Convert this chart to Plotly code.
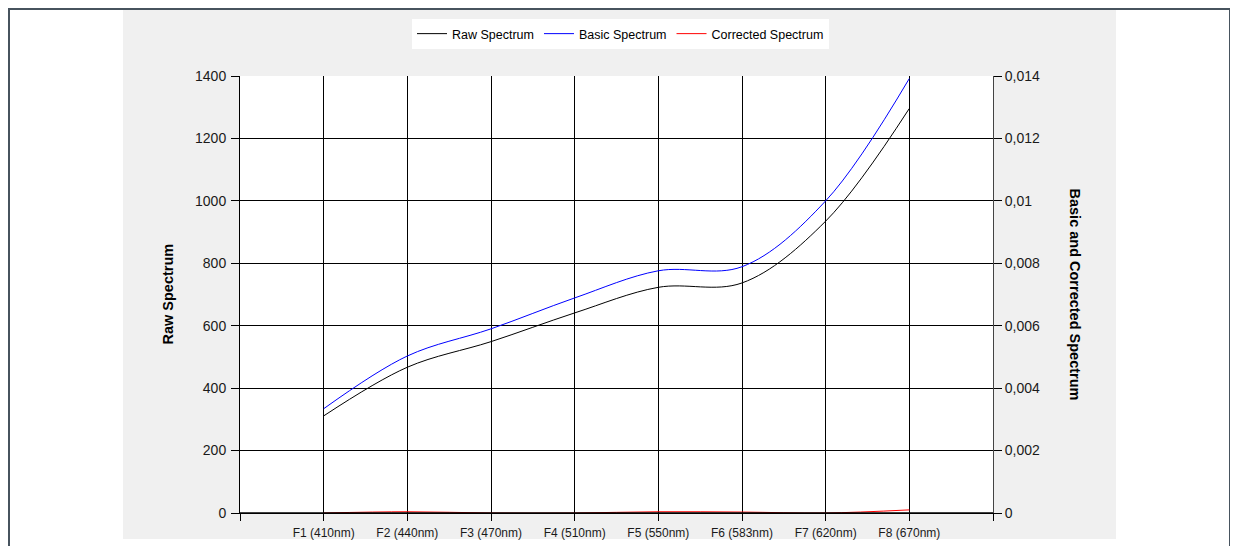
import plotly.graph_objects as go

categories = ["F1 (410nm)", "F2 (440nm)", "F3 (470nm)", "F4 (510nm)",
              "F5 (550nm)", "F6 (583nm)", "F7 (620nm)", "F8 (670nm)"]
raw_spectrum = [311, 467, 549, 641, 723, 737, 935, 1296]
basic_spectrum = [0.00334, 0.00503, 0.00590, 0.00689, 0.00776, 0.00789, 0.01000, 0.01392]
corrected_spectrum = [0.0, 0.00004, 0.0, 0.0, 0.00004, 0.00003, 0.0, 0.0001]

left_ticks = [0, 200, 400, 600, 800, 1000, 1200, 1400]
right_ticks = [0, 0.002, 0.004, 0.006, 0.008, 0.010, 0.012, 0.014]
right_ticktext = ["0", "0,002", "0,004", "0,006", "0,008", "0,01", "0,012", "0,014"]

# page has an 8px body margin; work in page coordinates
OFF = 8
PAGE_W, PAGE_H = 1238, 546
W, H = PAGE_W - OFF, PAGE_H - OFF
L, R, T, B = 240, 993, 76, 513          # plot area in page pixels
PW, PH = R - L, B - T

def px(x):
    return (x - L) / PW

def py(y):
    return (B - y) / PH

xpos = list(range(1, len(categories) + 1))
FONT = "Liberation Sans, Arial, sans-serif"
BORDER = "#47535e"

fig = go.Figure()
fig.add_trace(go.Scatter(x=xpos, y=raw_spectrum, name="Raw Spectrum", mode="lines",
                         line=dict(color="#000000", width=1, shape="spline", smoothing=1)))
fig.add_trace(go.Scatter(x=xpos, y=basic_spectrum, name="Basic Spectrum", mode="lines",
                         yaxis="y2",
                         line=dict(color="#0000ff", width=1, shape="spline", smoothing=1)))
fig.add_trace(go.Scatter(x=xpos, y=corrected_spectrum, name="Corrected Spectrum", mode="lines",
                         yaxis="y2",
                         line=dict(color="#ff0000", width=1, shape="spline", smoothing=1)))

shapes = [
    # grey chart panel
    dict(type="rect", xref="paper", yref="paper", x0=px(123), x1=px(1116), y0=py(539), y1=py(10),
         fillcolor="#f0f0f0", line=dict(width=0), layer="below"),
    # white plot area
    dict(type="rect", xref="paper", yref="paper", x0=0, x1=1, y0=0, y1=1,
         fillcolor="#ffffff", line=dict(width=0), layer="below"),
    # outer window border
    dict(type="line", xref="paper", yref="paper", x0=px(8), x1=px(1232), y0=py(9), y1=py(9),
         line=dict(color=BORDER, width=2), layer="below"),
    dict(type="line", xref="paper", yref="paper", x0=px(9), x1=px(9), y0=py(8), y1=py(546),
         line=dict(color=BORDER, width=2), layer="below"),
    dict(type="line", xref="paper", yref="paper", x0=px(1230.5), x1=px(1230.5), y0=py(8), y1=py(546),
         line=dict(color=BORDER, width=3), layer="below"),
    # x-axis baseline drawn over the traces (as in the original chart control)
    dict(type="line", xref="paper", yref="paper", x0=0, x1=1, y0=0, y1=0,
         line=dict(color="#000000", width=1.5), layer="above"),
]

annotations = [
    dict(text="<b>Raw Spectrum</b>", xref="paper", yref="paper", x=px(167), y=0.5,
         textangle=-90, showarrow=False, font=dict(family=FONT, size=14.5, color="#000000"),
         xanchor="center", yanchor="middle"),
    dict(text="<b>Basic and Corrected Spectrum</b>", xref="paper", yref="paper", x=px(1075), y=0.5,
         textangle=90, showarrow=False, font=dict(family=FONT, size=14.5, color="#000000"),
         xanchor="center", yanchor="middle"),
]

fig.update_layout(
    width=W, height=H,
    margin=dict(l=L - OFF, r=PAGE_W - R, t=T - OFF, b=PAGE_H - B, pad=0, autoexpand=False),
    paper_bgcolor="#ffffff",
    plot_bgcolor="rgba(0,0,0,0)",
    shapes=shapes,
    annotations=annotations,
    showlegend=True,
    legend=dict(orientation="h", x=px(620.5), xanchor="center", y=py(19), yanchor="top",
                bgcolor="#ffffff", borderwidth=0,
                font=dict(family=FONT, size=12.5, color="#000000"),
                itemwidth=30, tracegroupgap=0),
    xaxis=dict(range=[0, 9], tickmode="array", tickvals=list(range(0, 10)),
               ticktext=[""] + categories + [""],
               showgrid=True, gridcolor="#000000", gridwidth=1,
               showline=True, linecolor="#000000", linewidth=1, mirror=False,
               ticks="outside", ticklen=7, tickcolor="#000000", tickwidth=1,
               ticklabelstandoff=2, automargin=False,
               tickfont=dict(family=FONT, size=12, color="#1a1a1a"),
               zeroline=False, fixedrange=True),
    yaxis=dict(range=[0, 1400], tickmode="array", tickvals=left_ticks,
               ticktext=[str(v) for v in left_ticks],
               showgrid=True, gridcolor="#000000", gridwidth=1,
               showline=True, linecolor="#000000", linewidth=1,
               ticks="outside", ticklen=8, tickcolor="#000000", tickwidth=1,
               ticklabelstandoff=2, automargin=False,
               tickfont=dict(family=FONT, size=14, color="#1a1a1a"),
               zeroline=False, fixedrange=True),
    yaxis2=dict(range=[0, 0.014], overlaying="y", side="right", tickmode="array",
                tickvals=right_ticks, ticktext=right_ticktext,
                showgrid=False, showline=True, linecolor="#444444", linewidth=1,
                ticks="outside", ticklen=8, tickcolor="#000000", tickwidth=1,
                automargin=False,
                tickfont=dict(family=FONT, size=14, color="#1a1a1a"),
                zeroline=False, fixedrange=True),
)

fig.write_html("out.html")
